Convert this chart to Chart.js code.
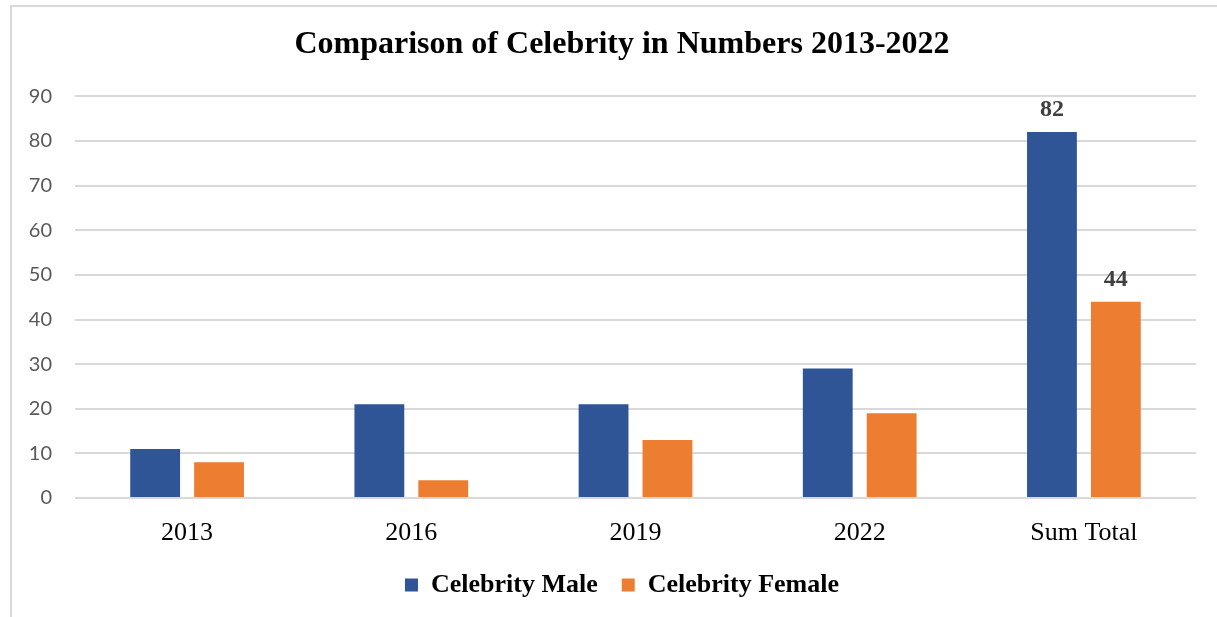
<!DOCTYPE html>
<html>
<head>
<meta charset="utf-8">
<script src="https://cdn.jsdelivr.net/npm/chart.js@4"></script>
<style>
  html, body { margin: 0; padding: 0; background: #fff; overflow: hidden; }
  #frame {
    position: absolute; left: 10px; top: 5px; width: 1300px; height: 700px;
    border-top: 2px solid #d9d9d9; border-left: 2px solid #d9d9d9;
  }
  #celebrity-chart { position: absolute; left: 0; top: 0; }
</style>
</head>
<body>
<div id="frame"></div>
<canvas id="celebrity-chart" width="1217" height="617"></canvas>
<script>
const years = ['2013', '2016', '2019', '2022', 'Sum Total'];
const maleCounts = [11, 21, 21, 29, 82];
const femaleCounts = [8, 4, 13, 19, 44];
const labelledIndex = [4]; // only the totals carry a value label

const serif = '"Liberation Serif", "Times New Roman", serif';

// value labels above the total bars
const valueLabels = {
  id: 'valueLabels',
  afterDatasetsDraw(chart) {
    const { ctx } = chart;
    ctx.save();
    ctx.font = 'bold 24px ' + serif;
    ctx.fillStyle = '#404040';
    ctx.textAlign = 'center';
    ctx.textBaseline = 'alphabetic';
    chart.data.datasets.forEach((ds, i) => {
      const meta = chart.getDatasetMeta(i);
      labelledIndex.forEach((idx) => {
        const bar = meta.data[idx];
        ctx.fillText(String(ds.data[idx]), bar.x, bar.y - 16);
      });
    });
    ctx.restore();
  }
};

const ctx = document.getElementById('celebrity-chart').getContext('2d');
const chart = new Chart(ctx, {
  type: 'bar',
  data: {
    labels: years,
    datasets: [
      {
        label: 'Celebrity Male',
        data: maleCounts,
        backgroundColor: '#2f5597',
        categoryPercentage: 0.57,
        barPercentage: 0.78,
      },
      {
        label: 'Celebrity Female',
        data: femaleCounts,
        backgroundColor: '#ed7d31',
        categoryPercentage: 0.57,
        barPercentage: 0.78,
      },
    ],
  },
  options: {
    responsive: false,
    animation: false,
    devicePixelRatio: 1,
    layout: {
      padding: { left: 28, right: 1, top: 0, bottom: 9 },
    },
    scales: {
      x: {
        afterFit: (scale) => { scale.height = 50; },
        grid: { display: false, drawTicks: false },
        border: { display: false },
        ticks: {
          color: '#000',
          padding: 20,
          font: { family: serif, size: 26 },
        },
      },
      y: {
        min: 0,
        max: 90,
        afterFit: (scale) => { scale.width = 47; },
        grid: { color: '#d9d9d9', lineWidth: 2, drawTicks: false },
        border: { display: false },
        ticks: {
          stepSize: 10,
          color: '#595959',
          padding: 23,
          font: { family: 'Lato', size: 20 },
        },
      },
      // empty right margin beside the plot
      gutter: {
        type: 'linear',
        position: 'right',
        afterFit: (scale) => { scale.width = 20; },
        grid: { display: false, drawTicks: false },
        border: { display: false },
        ticks: { display: false },
      },
    },
    plugins: {
      title: {
        display: true,
        text: 'Comparison of Celebrity in Numbers 2013-2022',
        color: '#000',
        font: { family: serif, size: 32, weight: 'bold' },
        padding: { top: 26, bottom: 32 },
      },
      legend: {
        position: 'bottom',
        labels: {
          color: '#000',
          boxWidth: 13,
          boxHeight: 13,
          padding: 24,
          font: { family: serif, size: 26, weight: 'bold' },
        },
      },
      tooltip: { enabled: false },
    },
  },
  plugins: [valueLabels],
});
</script>
</body>
</html>
